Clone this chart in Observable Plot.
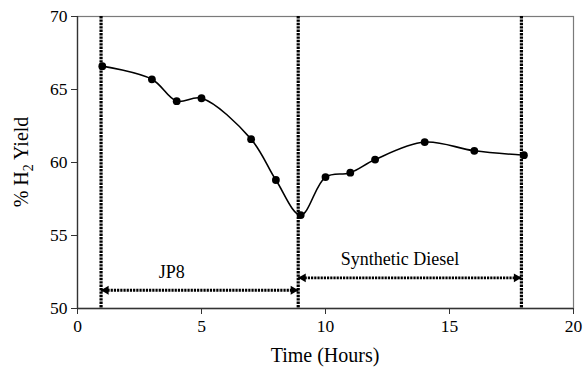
<!DOCTYPE html>
<html>
<head>
<meta charset="utf-8">
<script src="https://cdn.jsdelivr.net/npm/d3@7"></script>
<script src="https://cdn.jsdelivr.net/npm/@observablehq/plot@0.6"></script>
<style>
  html, body { margin: 0; padding: 0; background: #fff; }
  #chart { width: 584px; height: 372px; }
  #chart svg, #chart svg text { font-family: "Liberation Serif", "Times New Roman", serif !important; }
</style>
</head>
<body>
<div id="chart"></div>
<script>
// Data
const time = [1, 3, 4, 5, 7, 8, 9, 10, 11, 12, 14, 16, 18];
const h2Yield = [66.6, 65.7, 64.2, 64.4, 61.6, 58.8, 56.4, 59.0, 59.3, 60.2, 61.4, 60.8, 60.5];
const switchTimes = [0.95, 8.9, 17.9];
const phaseNames = ["JP8", "Synthetic Diesel"];
const phaseStart = [0.95, 8.9];
const phaseEnd = [8.9, 17.9];
const phaseArrowY = [51.25, 52.1];
const phaseLabelX = [3.8, 13.0];
const phaseLabelY = [52.45, 53.4];
const xTicks = [0, 5, 10, 15, 20];
const yTicks = [50, 55, 60, 65, 70];

const FONT = "'Liberation Serif', 'Times New Roman', serif";
const points = time.map((t, i) => ({t, y: h2Yield[i]}));
const phases = phaseNames.map((name, i) => ({
  name, x1: phaseStart[i], x2: phaseEnd[i], y: phaseArrowY[i], lx: phaseLabelX[i], ly: phaseLabelY[i]
}));

const chart = Plot.plot({
  width: 584,
  height: 372,
  marginLeft: 77,
  marginRight: 11,
  marginTop: 16,
  marginBottom: 64,
  style: {fontFamily: FONT, fontSize: "17px", color: "black", background: "white"},
  x: {domain: [0, 20], ticks: xTicks, label: null},
  y: {domain: [50, 70], ticks: yTicks, label: null},
  marks: [
    Plot.frame({stroke: "#7a7a7a", strokeWidth: 1.2}),
    Plot.axisX({ticks: xTicks, tickSize: 6, tickPadding: 5, label: null, fontSize: 17.5, fontFamily: FONT, stroke: "#333"}),
    Plot.axisY({ticks: yTicks, tickSize: 6, tickPadding: 4, label: null, fontSize: 17.5, fontFamily: FONT, stroke: "#333"}),
    Plot.ruleX(switchTimes, {stroke: "black", strokeWidth: 3.2, strokeDasharray: "2.4,1"}),
    Plot.link(phases, {x1: "x1", x2: "x2", y1: "y", y2: "y", stroke: "black", strokeWidth: 2.8, strokeDasharray: "2.2,1"}),
    Plot.dot(phases, {x: "x1", y: "y", symbol: "triangle2", rotate: -90, r: 4.2, fill: "black", stroke: "none", dx: 5}),
    Plot.dot(phases, {x: "x2", y: "y", symbol: "triangle2", rotate: 90, r: 4.2, fill: "black", stroke: "none", dx: -5}),
    Plot.text(phases, {x: "lx", y: "ly", text: "name", fontSize: 18, fontFamily: FONT, fill: "black"}),
    Plot.line(points, {x: "t", y: "y", curve: "catmull-rom", stroke: "black", strokeWidth: 1.6}),
    Plot.dot(points, {x: "t", y: "y", r: 3.9, fill: "black", stroke: "none"}),
    Plot.ruleX([0], {stroke: "#333", strokeWidth: 1.3}),
    Plot.ruleY([50], {stroke: "#333", strokeWidth: 1.3})
  ]
});

const svg = d3.select(chart);
svg.append("text")
  .attr("x", 325).attr("y", 362)
  .attr("text-anchor", "middle")
  .attr("font-family", FONT)
  .attr("font-size", 20)
  .attr("fill", "black")
  .text("Time (Hours)");

const yt = svg.append("text")
  .attr("transform", "translate(28,162) rotate(-90)")
  .attr("text-anchor", "middle")
  .attr("font-family", FONT)
  .attr("font-size", 20)
  .attr("fill", "black");
yt.append("tspan").text("% H");
yt.append("tspan").attr("font-size", 14).attr("dy", 5).text("2");
yt.append("tspan").attr("dy", -5).text(" Yield");

document.getElementById("chart").appendChild(chart);
</script>
</body>
</html>
